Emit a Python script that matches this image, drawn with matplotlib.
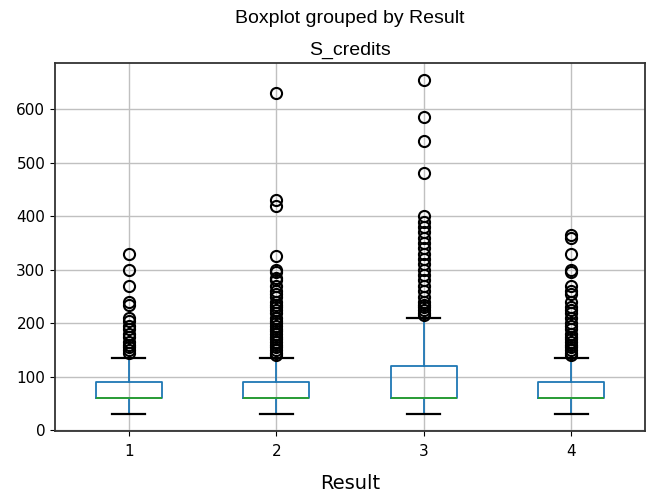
import matplotlib
matplotlib.use("Agg")
import matplotlib.pyplot as plt

# Boxplot of S_credits grouped by Result
results = [1, 2, 3, 4]
whislo = [30, 30, 30, 30]
q1 = [60, 60, 60, 60]
med = [60, 60, 60, 60]
q3 = [90, 90, 120, 90]
whishi = [135, 135, 210, 135]

fliers_1 = [145, 150, 155, 160, 165, 175, 180, 190, 195, 205, 210, 235, 240,
            270, 300, 330]
fliers_2 = [140, 145, 150, 155, 160, 165, 170, 175, 180, 185, 190, 195, 200,
            205, 210, 220, 225, 230, 235, 240, 250, 255, 260, 270, 280, 285,
            295, 300, 325, 420, 430, 630]
fliers_3 = [215, 220, 225, 230, 235, 240, 250, 260, 270, 280, 290, 300, 310,
            320, 330, 340, 350, 360, 370, 380, 390, 400, 480, 540, 585, 655]
fliers_4 = [140, 145, 150, 155, 160, 165, 170, 175, 180, 190, 195, 200, 210,
            220, 225, 230, 240, 255, 260, 270, 295, 300, 330, 360, 365]
fliers = [fliers_1, fliers_2, fliers_3, fliers_4]

stats = []
for i, r in enumerate(results):
    stats.append(dict(label=str(r), whislo=whislo[i], q1=q1[i], med=med[i],
                      q3=q3[i], whishi=whishi[i], fliers=fliers[i]))

fig = plt.figure(figsize=(6.47, 4.96), dpi=100)
ax = fig.add_axes([0.085, 0.131, 0.912, 0.742])

ax.bxp(stats, positions=results, widths=0.45,
       boxprops=dict(color="#1f77b4", linewidth=1.3),
       whiskerprops=dict(color="#1f77b4", linewidth=1.3),
       medianprops=dict(color="#2ca02c", linewidth=1.3),
       capprops=dict(color="black", linewidth=1.6),
       flierprops=dict(marker="o", markerfacecolor="none",
                       markeredgecolor="black", markersize=8,
                       markeredgewidth=1.5))

ax.set_xlim(0.5, 4.5)
ax.set_yticks([0, 100, 200, 300, 400, 500, 600])
ax.grid(True, color="#c0c0c0", linewidth=1.0)
ax.set_axisbelow(True)
ax.tick_params(labelsize=11)
ax.tick_params(axis="x", pad=5.5)
for s in ax.spines.values():
    s.set_linewidth(1.3)
    s.set_color("#333333")

ax.set_xlabel("Result", fontsize=14, labelpad=11)
ax.set_title("S_credits", fontsize=14, family="Liberation Sans")
fig.text(0.541, 0.963, "Boxplot grouped by Result", ha="center", va="center",
         fontsize=14, family="Liberation Sans")

fig.savefig("out.png", dpi=100)
